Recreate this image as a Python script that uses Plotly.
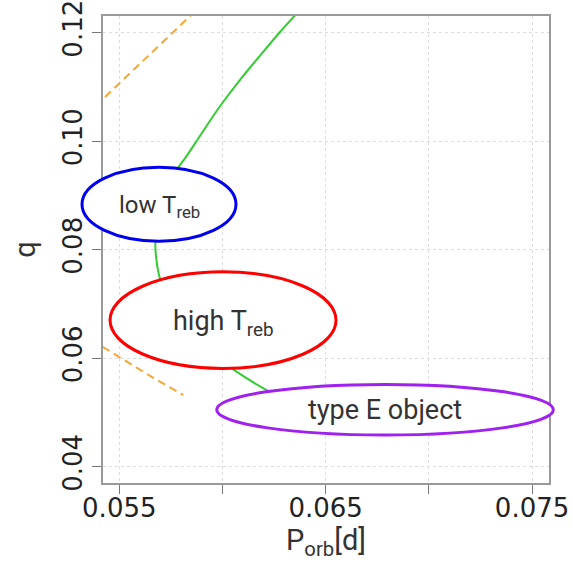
import plotly.graph_objects as go

# ---- data ----
green_P = [0.063513, 0.062786, 0.061831, 0.060896, 0.059976, 0.059249,
           0.058716, 0.058232, 0.057820, 0.05736, 0.05702, 0.05683, 0.05675,
           0.05680, 0.05697, 0.05746, 0.05818, 0.05915, 0.06052, 0.06214,
           0.06375, 0.06500]
green_q = [0.12319, 0.12011, 0.11582, 0.11153, 0.10693, 0.10293,
           0.09985, 0.09709, 0.09495, 0.09188, 0.08727, 0.08267, 0.08114,
           0.07807, 0.07470, 0.07070, 0.06610, 0.06186, 0.05794, 0.05413,
           0.05136, 0.04960]

orange_up_P = [0.054307, 0.05630, 0.05850]
orange_up_q = [0.10814, 0.11530, 0.12330]
orange_lo_P = [0.054196, 0.05620, 0.05810]
orange_lo_q = [0.06210, 0.05740, 0.05320]

region_names = ["low", "high", "typeE"]
region_P0 = [0.053193, 0.05455, 0.05972]
region_P1 = [0.060654, 0.06550, 0.07603]
region_q0 = [0.08157, 0.05812, 0.04584]
region_q1 = [0.09519, 0.07591, 0.05517]
region_colors = ["#0000EE", "#FF0000", "#A020F0"]

label_texts = ["low T<sub>reb</sub>", "high T<sub>reb</sub>", "type E object"]
label_P = [0.05695, 0.06005, 0.06786]
label_q = [0.0880, 0.0665, 0.05045]
label_sizes = [24, 27, 27]

x_ticks = [0.055, 0.060, 0.065, 0.070, 0.075]
x_ticktext = ["0.055", "", "0.065", "", "0.075"]
y_ticks = [0.04, 0.06, 0.08, 0.10, 0.12]
y_ticktext = ["0.04", "0.06", "0.08", "0.10", "0.12"]

X_RANGE = [0.05421, 0.07582]
Y_RANGE = [0.0370, 0.12306]

fig = go.Figure()
fig.add_trace(go.Scatter(x=green_P, y=green_q, mode="lines",
                         line=dict(color="#33CC33", width=2, shape="spline", smoothing=0.6),
                         showlegend=False, hoverinfo="skip"))
for P, q in [(orange_up_P, orange_up_q), (orange_lo_P, orange_lo_q)]:
    fig.add_trace(go.Scatter(x=P, y=q, mode="lines",
                             line=dict(color="#F7A736", width=2, dash="8px,5px"),
                             showlegend=False, hoverinfo="skip"))


def to_paper_x(v):
    return (v - X_RANGE[0]) / (X_RANGE[1] - X_RANGE[0])


for i in range(len(region_names)):
    fig.add_shape(type="circle", xref="paper", yref="y",
                  x0=to_paper_x(region_P0[i]), x1=to_paper_x(region_P1[i]),
                  y0=region_q0[i], y1=region_q1[i],
                  fillcolor="white", line=dict(color=region_colors[i], width=3),
                  layer="above")

for i in range(len(label_texts)):
    fig.add_annotation(x=label_P[i], y=label_q[i], xref="x", yref="y",
                       text=label_texts[i], showarrow=False,
                       font=dict(family="Roboto", size=label_sizes[i], color="#333333"))

axis_common = dict(showline=True, linecolor="#999999", linewidth=1.5, mirror=True,
                   ticks="outside", ticklen=9, tickcolor="#777777", tickwidth=1.3,
                   showgrid=True, gridcolor="#DDDDDD", gridwidth=1, griddash="dot",
                   zeroline=False, automargin=False, ticklabeloverflow="allow",
                   tickfont=dict(family="DejaVu Sans", size=26, color="#222222"))

fig.update_xaxes(range=X_RANGE, tickvals=x_ticks, ticktext=x_ticktext,
                 ticklabelstandoff=-8,
                 title=dict(text="P<sub>orb</sub>[d]", standoff=0,
                            font=dict(family="Roboto", size=29, color="#333333")),
                 **axis_common)
fig.update_yaxes(range=Y_RANGE, tickvals=y_ticks, ticktext=y_ticktext, tickangle=-90,
                 title=dict(text="q", standoff=14,
                            font=dict(family="Roboto", size=29, color="#333333")),
                 **axis_common)

fig.update_layout(template="none", width=572, height=568,
                  margin=dict(l=103, r=23, t=16, b=85),
                  paper_bgcolor="white", plot_bgcolor="white", showlegend=False)

fig.write_html("out.html")
